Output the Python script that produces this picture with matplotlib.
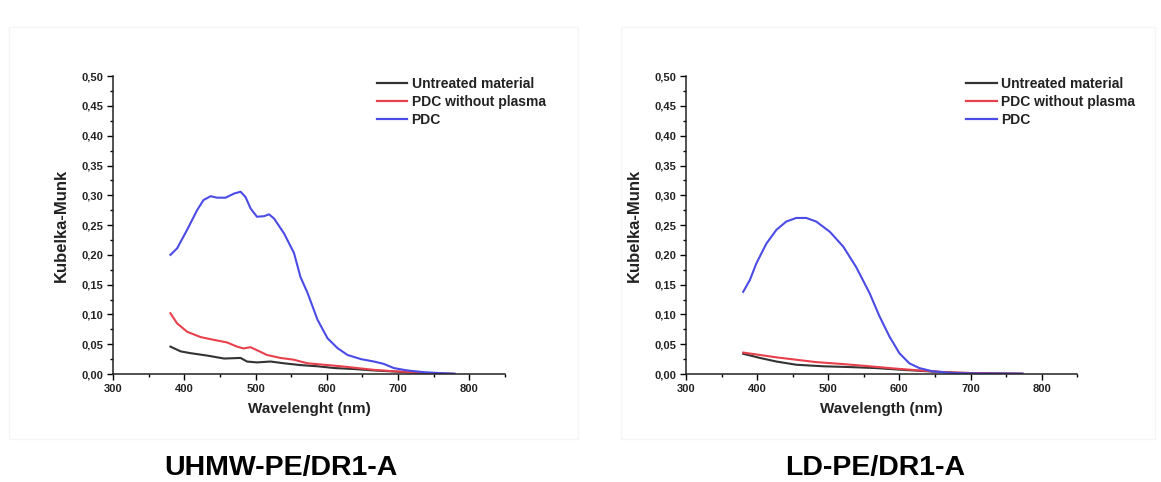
import matplotlib
matplotlib.use("Agg")
import matplotlib.pyplot as plt
from matplotlib.ticker import MultipleLocator, FuncFormatter
from matplotlib.patches import Rectangle

plt.rcParams['font.family'] = ['Liberation Sans', 'DejaVu Sans']

# ---- Data: UHMW-PE/DR1-A ----
uh_black_x = [380.6, 395, 409, 432, 456, 479, 488, 502, 521, 540, 563, 587, 611, 638, 666, 690, 713, 737, 760, 779]
uh_black_y = [0.046, 0.038, 0.035, 0.031, 0.026, 0.027, 0.021, 0.0195, 0.021, 0.018, 0.015, 0.013, 0.010, 0.0084, 0.006, 0.0045, 0.003, 0.0017, 0.0005, 0.0002]

uh_red_x = [380.6, 390, 404, 423, 441, 460, 474, 483, 493, 502, 516, 535, 554, 563, 573, 596, 620, 643, 666, 690, 713, 737, 760, 779]
uh_red_y = [0.102, 0.085, 0.071, 0.062, 0.0575, 0.053, 0.046, 0.043, 0.045, 0.040, 0.032, 0.027, 0.024, 0.021, 0.018, 0.0156, 0.013, 0.010, 0.007, 0.005, 0.0035, 0.0017, 0.0005, 0.0002]

uh_blue_x = [380.6, 390, 404, 418, 427, 437, 446, 458, 470, 479, 486, 493, 502, 512, 519, 526, 540, 554, 563, 573, 587, 601, 615, 629, 648, 666, 680, 694, 713, 737, 760, 779]
uh_blue_y = [0.200, 0.211, 0.242, 0.275, 0.292, 0.2985, 0.296, 0.296, 0.303, 0.306, 0.297, 0.278, 0.264, 0.265, 0.268, 0.261, 0.236, 0.203, 0.163, 0.136, 0.091, 0.060, 0.0435, 0.032, 0.025, 0.021, 0.017, 0.010, 0.006, 0.003, 0.0015, 0.0005]

# ---- Data: LD-PE/DR1-A ----
ld_black_x = [380.4, 404, 427, 455, 493, 530, 567, 605, 642, 684, 731, 773]
ld_black_y = [0.034, 0.027, 0.021, 0.0156, 0.013, 0.0117, 0.010, 0.007, 0.0045, 0.002, 0.001, 0.0005]

ld_red_x = [380.4, 404, 427, 455, 483, 521, 558, 596, 633, 661, 699, 731, 773]
ld_red_y = [0.036, 0.032, 0.028, 0.024, 0.020, 0.0167, 0.013, 0.009, 0.0056, 0.0033, 0.0017, 0.001, 0.0005]

ld_blue_x = [380.4, 389.8, 399, 413, 427, 441, 455, 469, 483, 502, 521, 539, 558, 572, 586, 600, 614, 628, 647, 675, 708, 773]
ld_blue_y = [0.138, 0.158, 0.186, 0.219, 0.242, 0.256, 0.262, 0.262, 0.256, 0.239, 0.214, 0.180, 0.136, 0.097, 0.063, 0.035, 0.018, 0.010, 0.0045, 0.0017, 0.001, 0.0005]

labels = ["Untreated material", "PDC without plasma", "PDC"]
colors = ["#333333", "#e8404c", "#4b4be6"]
panel_titles = ["UHMW-PE/DR1-A", "LD-PE/DR1-A"]
xlabels = ["Wavelenght (nm)", "Wavelength (nm)"]

fig = plt.figure(figsize=(11.61, 4.82), dpi=100)

# faint panel frames
fig.patches.append(Rectangle((0.008, 0.09), 0.49, 0.855, transform=fig.transFigure,
                             fill=False, edgecolor="#f5f5f5", linewidth=1.0))
fig.patches.append(Rectangle((0.535, 0.09), 0.46, 0.855, transform=fig.transFigure,
                             fill=False, edgecolor="#f5f5f5", linewidth=1.0))

ax1 = fig.add_axes([0.0973, 0.224, 0.3377, 0.618])
ax2 = fig.add_axes([0.5909, 0.224, 0.3369, 0.618])

datasets = [
    [(uh_black_x, uh_black_y), (uh_red_x, uh_red_y), (uh_blue_x, uh_blue_y)],
    [(ld_black_x, ld_black_y), (ld_red_x, ld_red_y), (ld_blue_x, ld_blue_y)],
]
legend_x = [0.673, 0.716]

comma = FuncFormatter(lambda v, p: f"{v:.2f}".replace(".", ","))

for i, ax in enumerate([ax1, ax2]):
    for (xs, ys), lab, c in zip(datasets[i], labels, colors):
        ax.plot(xs, ys, color=c, lw=1.5, label=lab)
    ax.set_xlim(300, 850)
    ax.set_ylim(0, 0.5)
    ax.spines['top'].set_visible(False)
    ax.spines['right'].set_visible(False)
    for s in ['left', 'bottom']:
        ax.spines[s].set_linewidth(1.1)
        ax.spines[s].set_color("#222222")
    ax.xaxis.set_major_locator(MultipleLocator(100))
    ax.xaxis.set_minor_locator(MultipleLocator(50))
    ax.yaxis.set_major_locator(MultipleLocator(0.05))
    ax.yaxis.set_minor_locator(MultipleLocator(0.025))
    ax.yaxis.set_major_formatter(comma)
    ax.tick_params(which='major', direction='out', length=4, width=1, labelsize=8, pad=3)
    ax.tick_params(which='minor', direction='out', length=2, width=1)
    for t in ax.get_xticklabels() + ax.get_yticklabels():
        t.set_fontweight('bold')
        t.set_color("#222222")
    ax.set_xlabel(xlabels[i], fontsize=11, fontweight='bold', labelpad=6, color="#222222")
    ax.set_ylabel("Kubelka-Munk", fontsize=12, fontweight='bold', labelpad=9, color="#222222")
    leg = ax.legend(loc='upper left', bbox_to_anchor=(legend_x[i], 0.998), frameon=False,
                    fontsize=10, handlelength=2.2, handletextpad=0.3, labelspacing=0.3,
                    borderpad=0, borderaxespad=0)
    for t in leg.get_texts():
        t.set_fontweight('bold')
        t.set_color("#222222")
    for l in leg.get_lines():
        l.set_linewidth(1.6)

fig.text(0.242, 0.029, panel_titles[0], fontsize=20.5, fontweight='bold', ha='center', va='center')
fig.text(0.754, 0.029, panel_titles[1], fontsize=20.5, fontweight='bold', ha='center', va='center')

fig.savefig("out.png", dpi=100, facecolor="white")
